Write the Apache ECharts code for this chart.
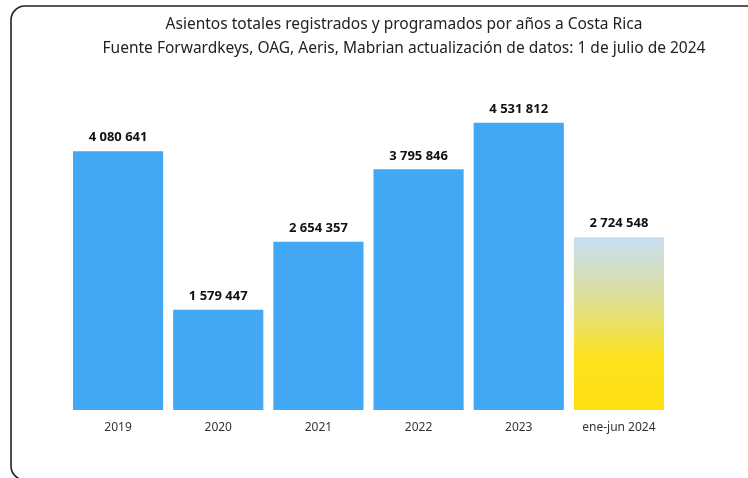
<!DOCTYPE html>
<html>
<head>
<meta charset="utf-8">
<script src="https://cdn.jsdelivr.net/npm/echarts@6/dist/echarts.min.js"></script>
<style>
  html, body { margin: 0; padding: 0; background: #fff; }
  #chart { width: 748px; height: 478px; }
</style>
</head>
<body>
<div id="chart"></div>
<script>
// categorias y valores
const categories = ["2019", "2020", "2021", "2022", "2023", "ene-jun 2024"];
const seats = [4080641, 1579447, 2654357, 3795846, 4531812, 2724548];
const titleLines = [
  "Asientos totales registrados y programados por años a Costa Rica",
  "Fuente Forwardkeys, OAG, Aeris, Mabrian actualización de datos: 1 de julio de 2024"
];

const chart = echarts.init(document.getElementById("chart"));

// separador de miles con espacio
function fmt(v) {
  return String(v).replace(/\B(?=(\d{3})+(?!\d))/g, " ");
}

const lastIdx = seats.length - 1;
const barData = seats.map((v, i) => {
  if (i !== lastIdx) return v;
  return {
    value: v,
    itemStyle: {
      color: new echarts.graphic.LinearGradient(0, 0, 0, 1, [
        { offset: 0, color: "#c8def4" },
        { offset: 0.35, color: "#dcdf98" },
        { offset: 0.7, color: "#fde21c" },
        { offset: 1, color: "#ffdf12" }
      ])
    }
  };
});

chart.setOption({
  backgroundColor: "#fff",
  animation: false,
  graphic: [
    {
      type: "rect",
      shape: { x: 11, y: 6, width: 770, height: 474, r: 14 },
      style: { fill: "none", stroke: "#222", lineWidth: 1.6 }
    }
  ],
  title: {
    text: titleLines.join("\n"),
    left: 399,
    textAlign: "center",
    top: 8,
    textStyle: {
      fontFamily: "Noto Sans",
      fontWeight: "normal",
      fontSize: 15.5,
      lineHeight: 24,
      color: "#222"
    }
  },
  grid: { left: 68, right: 79, top: 93, bottom: 68 },
  xAxis: {
    type: "category",
    data: categories,
    axisLine: { show: false },
    axisTick: { show: false },
    axisLabel: {
      color: "#333",
      fontSize: 12,
      fontFamily: "Noto Sans",
      margin: 12
    }
  },
  yAxis: {
    type: "value",
    min: 0,
    max: 5000000,
    show: false,
    splitLine: { show: false }
  },
  series: [
    {
      type: "bar",
      data: barData,
      barWidth: "90%",
      itemStyle: { color: "#42a8f5" },
      label: {
        show: true,
        position: "top",
        distance: 7,
        color: "#111",
        fontWeight: "bold",
        fontSize: 13,
        fontFamily: "Noto Sans",
        formatter: p => fmt(p.value)
      }
    }
  ]
});
</script>
</body>
</html>
